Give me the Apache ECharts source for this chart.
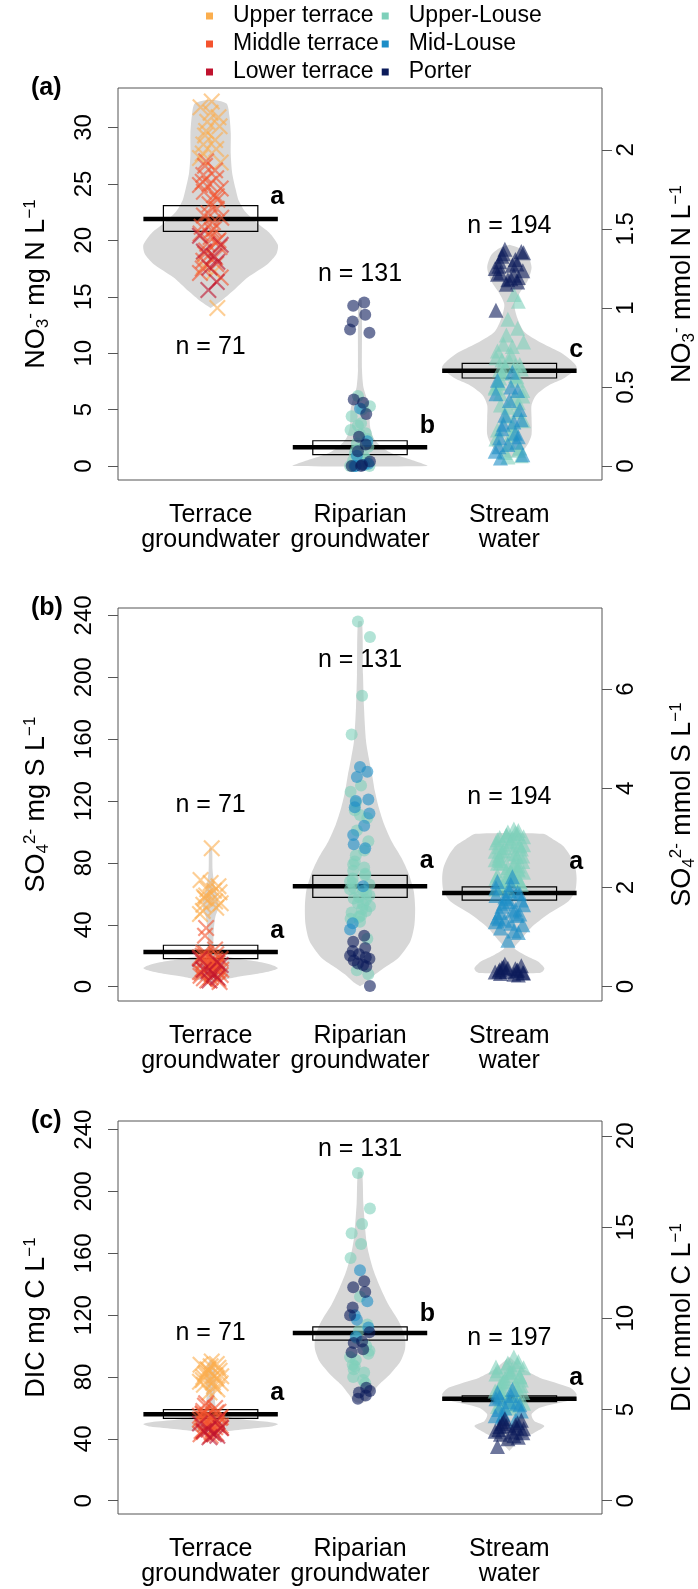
<!DOCTYPE html>
<html>
<head>
<meta charset="utf-8">
<title>NO3, SO4 and DIC by water type</title>
<script src="https://cdn.jsdelivr.net/npm/echarts@6.0.0/dist/echarts.min.js"></script>
<style>
  html, body { margin: 0; padding: 0; background: #fff; }
  #chart { width: 698px; height: 1589px; }
</style>
</head>
<body>
<div id="chart"></div>
<script>
// categories and sites
var groups = ['Terrace\ngroundwater', 'Riparian\ngroundwater', 'Stream\nwater'];
var terraceSites = ['Upper terrace', 'Middle terrace', 'Lower terrace'];
var louseSites = ['Upper-Louse', 'Mid-Louse', 'Porter'];
var legendOrder = ['Upper terrace', 'Middle terrace', 'Lower terrace', 'Upper-Louse', 'Mid-Louse', 'Porter'];
var siteColors = ['#FBAE4E', '#F4532E', '#C0122E', '#7ED0BA', '#1C8DC7', '#0B1B5A'];

// ---------- (a) NO3-, mg N per L ----------
var no3Range = [-1.24, 33.5];
var no3Ticks = [0, 5, 10, 15, 20, 25, 30];
var no3MmolTicks = [0, 0.5, 1, 1.5, 2];
var no3TerraceUpper = [32.3, 31.8, 31.3, 30.9, 30.5, 30.1, 29.7, 29.3, 28.9, 28.5, 28.1, 27.7, 27.3, 26.9, 17.7, 17.2, 14.0];
var no3TerraceMiddle = [27.0, 26.6, 26.2, 25.8, 25.5, 25.2, 24.9, 24.6, 24.3, 24.0, 23.6, 23.2, 22.8, 22.4, 22.0, 21.6, 21.2, 20.9, 20.6, 20.3, 20.0, 19.7, 19.4, 19.1, 18.8, 18.5, 18.2, 17.9, 17.5, 17.1, 16.7, 22.2, 21.0, 19.9, 25.0, 23.9];
var no3TerraceLower = [20.4, 19.6, 19.0, 18.6, 18.1, 17.6, 16.3, 15.6];
var no3RiparianUpperLouse = [6.2, 5.3, 5.0, 4.4, 3.8, 3.2, 2.8, 2.4, 2.0, 1.7, 1.4, 1.1, 0.8, 0.5, 0.3, 0.1, 0.0, 0.0, 0.0, 0.2, 0.6, 1.5, 2.9, 3.6];
var no3RiparianMidLouse = [5.1, 2.2, 0.9, 0.2, 0.0, 0.0, 0.1];
var no3RiparianPorter = [14.5, 14.2, 13.4, 12.8, 12.1, 11.8, 5.9, 5.6, 4.6, 2.6, 1.9, 1.3, 0.4, 0.1, 0.0, 0.0];
var no3StreamUpperLouse = [15.2, 14.6, 13.0, 12.2, 11.6, 11.0, 10.6, 10.2, 9.9, 9.6, 9.3, 9.0, 8.8, 8.6, 8.4, 8.2, 8.0, 7.8, 7.6, 7.3, 7.0, 6.7, 6.4, 6.0, 5.6, 5.2, 4.8, 4.4, 4.0, 3.6, 3.2, 2.8, 2.4, 2.0, 1.6, 1.2, 0.9, 10.8, 9.4, 8.9, 8.5, 7.9, 7.4, 6.9, 6.2, 5.4, 3.0, 1.4, 0.8];
var no3StreamMidLouse = [8.3, 7.6, 7.0, 6.4, 5.8, 5.0, 4.5, 4.1, 3.7, 3.3, 2.9, 2.5, 2.1, 1.7, 1.3, 1.0, 0.7, 3.9, 2.6, 1.9, 6.7];
var no3StreamPorter = [19.2, 19.0, 18.8, 18.6, 18.3, 18.1, 17.9, 17.7, 17.5, 17.3, 17.1, 16.9, 16.7, 16.5, 16.3, 16.1, 18.9, 17.8, 17.0, 16.6, 13.8];
// violin outline: [value, relative half width]
var no3ViolinTerrace = [[14.0, 0], [14.6, 0.15], [15.5, 0.33], [16.7, 0.55], [17.9, 0.85], [18.8, 0.98], [19.6, 1.0], [20.7, 0.87], [21.5, 0.7], [22.5, 0.52], [23.5, 0.42], [24.6, 0.37], [26, 0.32], [27.6, 0.3], [29.5, 0.3], [31, 0.28], [32.1, 0.24], [32.4, 0.1]];
var no3ViolinRiparian = [[0, 1.0], [0.3, 0.88], [0.7, 0.68], [1.2, 0.45], [1.8, 0.3], [2.5, 0.2], [3.5, 0.15], [5, 0.14], [6, 0.1], [7, 0.05], [8.5, 0.03], [14.7, 0.025]];
var no3ViolinStream = [[0.7, 0], [1.0, 0.15], [1.9, 0.27], [2.8, 0.33], [4.3, 0.33], [5.4, 0.33], [6.3, 0.4], [7.2, 0.6], [7.8, 0.82], [8.7, 1.0], [9.3, 0.93], [10.1, 0.75], [11.0, 0.45], [11.9, 0.22], [13.1, 0.12], [14.3, 0.075], [15.3, 0.15], [16.4, 0.27], [17.6, 0.33], [18.7, 0.27], [19.3, 0.15], [19.6, 0]];
var no3Mean = [21.9, 1.66, 8.45];
var no3BoxLo = [20.8, 1.0, 7.8];
var no3BoxHi = [23.08, 2.24, 9.1];
var no3Letters = ['a', 'b', 'c'];
var no3LetterY = [23.8, 3.5, 10.3];
var no3N = ['n = 71', 'n = 131', 'n = 194'];
var no3NY = [10.5, 17.0, 21.25];

// ---------- (b) SO4 2-, mg S per L ----------
var so4Range = [-9.25, 244.8];
var so4Ticks = [0, 40, 80, 120, 160, 200, 240];
var so4MmolTicks = [0, 2, 4, 6];
var so4TerraceUpper = [89.5, 69, 67, 65, 63, 61, 59, 57, 55, 53, 51, 49, 47, 54, 58, 62];
var so4TerraceMiddle = [38, 33, 24, 22, 21, 20, 19, 18, 17, 16, 15, 14, 13, 12, 11, 10, 9, 8, 7, 6, 5, 4, 3, 21.5, 19.5, 17.5, 15.5, 13.5, 11.5, 9.5, 7.5, 5.5, 12.5, 10.5, 14.5, 16.5];
var so4TerraceLower = [18, 14, 11, 8, 6, 4, 16, 10];
var so4RiparianUpperLouse = [236, 226, 188, 163, 130, 126, 111, 109, 101, 94, 85, 81, 77, 75, 72, 70, 68, 66, 64, 62, 60, 58, 56, 54, 52, 50, 48, 46, 44, 42, 31, 10.6, 8, 119, 114, 88, 79, 73, 67, 63, 59, 57, 53, 49, 45];
var so4RiparianMidLouse = [142, 139, 135.5, 121, 120, 116, 104, 98, 89.5, 41, 37, 112, 92, 65];
var so4RiparianPorter = [33, 29, 25, 23, 20, 18, 17, 14, 13, 21, 19, 15, 0.5];
var so4StreamUpperLouse = [102, 101, 100, 99, 98, 97, 96, 95, 94, 93, 92, 91, 90, 89, 88, 87, 86, 85, 84, 83, 82, 81, 80, 79, 78, 77, 76, 75, 74, 73, 72, 71, 70, 69, 68, 67, 66, 65, 64, 99.5, 96.5, 93.5, 90.5, 87.5, 84.5, 81.5, 78.5, 75.5, 72.5, 69.5, 97.8, 91.8, 85.8, 79.8, 73.8, 63, 62];
var so4StreamMidLouse = [71, 68, 66, 64, 62, 60, 58, 56, 54, 52, 50, 48, 46, 44, 42, 40, 38, 36, 35, 30, 61, 57, 53, 49, 45, 41, 59, 55, 47, 43];
var so4StreamPorter = [14.5, 13.5, 12.8, 12.2, 11.6, 11.0, 10.5, 10.0, 9.5, 9.0, 8.5, 8.0, 7.5, 12.0, 10.8, 9.8, 8.8];
var so4ViolinTerrace = [[2.5, 0], [5, 0.25], [6.7, 0.45], [8, 0.65], [10, 0.88], [12, 1.0], [14.2, 0.9], [16.4, 0.67], [18.6, 0.35], [21, 0.12], [25, 0.05], [35, 0.045], [45, 0.07], [52, 0.12], [58, 0.1], [65, 0.06], [75, 0.03], [89.5, 0.02]];
var so4ViolinRiparian = [[0.3, 0], [3, 0.1], [7.8, 0.22], [12, 0.35], [18.6, 0.57], [29.4, 0.75], [40, 0.81], [51, 0.82], [61.7, 0.8], [72.4, 0.73], [83, 0.62], [94, 0.47], [104.8, 0.36], [115.6, 0.28], [126.6, 0.22], [137, 0.18], [148, 0.13], [158.7, 0.09], [180, 0.06], [201.6, 0.045], [236, 0.03]];
var so4ViolinStream = [[8.9, 0.45], [10, 0.5], [12.1, 0.52], [16.4, 0.42], [20.7, 0.22], [25, 0.075], [29.4, 0.15], [38, 0.32], [46.6, 0.57], [55.2, 0.88], [62, 0.98], [70, 1.0], [77, 0.98], [85, 0.9], [91, 0.8], [95, 0.66], [98.8, 0.5]];
var so4Mean = [22.4, 64.9, 60.6];
var so4BoxLo = [18.1, 57.8, 55.9];
var so4BoxHi = [26.8, 72.0, 64.5];
var so4Letters = ['a', 'a', 'a'];
var so4LetterY = [35.8, 81.1, 80.7];
var so4N = ['n = 71', 'n = 131', 'n = 194'];
var so4NY = [117.3, 210.9, 122.5];

// ---------- (c) DIC, mg C per L ----------
var dicRange = [-8.6, 245.6];
var dicTicks = [0, 40, 80, 120, 160, 200, 240];
var dicMmolTicks = [0, 5, 10, 15, 20];
var dicTerraceUpper = [90, 88, 87, 86, 85, 84, 83, 82, 81, 80, 79, 78, 77, 76, 75, 74, 72, 70, 88.5, 84.5, 80.5, 76.5];
var dicTerraceMiddle = [63, 61.5, 60, 58, 57, 56, 55, 54, 53, 52, 51, 50, 49, 48, 47, 46, 45, 44, 43, 42, 57.5, 55.5, 53.5, 51.5, 49.5, 47.5, 45.5, 43.5, 56.5, 52.5, 48.5, 44.5];
var dicTerraceLower = [50, 47, 45, 43, 42, 41, 52, 46];
var dicRiparianUpperLouse = [212, 189, 179, 173, 166, 157, 132, 114, 105, 95, 91, 87, 83, 80, 76, 88, 93, 97, 85, 78, 100, 110];
var dicRiparianMidLouse = [149, 129, 117, 112, 106, 120];
var dicRiparianPorter = [142, 138, 135, 125, 120, 109, 102, 98, 73, 70, 68, 66, 71, 103, 96];
var dicStreamUpperLouse = [93, 90, 89, 88, 87, 86, 85, 84, 83, 82, 81, 80, 79, 78, 77, 76, 75, 74, 73, 72, 71, 70, 69, 68, 67, 66, 65, 64, 63, 62, 61, 60, 86.5, 83.5, 80.5, 77.5, 74.5, 71.5, 68.5, 65.5, 62.5];
var dicStreamMidLouse = [72, 70, 68, 66, 64, 62, 60, 58, 56, 54, 52, 67, 63, 59, 55];
var dicStreamPorter = [53, 52, 51, 50, 49, 48, 47, 46, 45, 44, 43, 42, 41, 40, 50.5, 48.5, 46.5, 44.5, 35];
var dicViolinTerrace = [[41, 0], [44, 0.12], [46.2, 0.5], [48, 0.9], [49.5, 1.0], [51, 0.85], [52.7, 0.45], [55, 0.18], [58, 0.1], [62, 0.07], [70, 0.06], [80, 0.08], [86, 0.06], [90.5, 0.02]];
var dicViolinRiparian = [[63.5, 0.05], [66, 0.12], [69, 0.17], [75, 0.28], [82, 0.45], [90, 0.6], [98, 0.67], [105, 0.67], [112, 0.62], [118, 0.55], [127, 0.42], [138, 0.3], [149, 0.2], [160, 0.13], [170, 0.09], [192, 0.05], [212.4, 0.03]];
var dicViolinStream = [[32.2, 0], [38.7, 0.15], [44, 0.37], [48.4, 0.52], [51.6, 0.37], [55.9, 0.33], [60.2, 0.45], [65.7, 0.95], [68.9, 1.0], [73.2, 0.9], [79.6, 0.45], [85, 0.22], [90, 0.08], [93, 0]];
var dicMean = [55.9, 108.4, 66.0];
var dicBoxLo = [53.3, 103.9, 64.1];
var dicBoxHi = [58.9, 112.5, 67.8];
var dicLetters = ['a', 'b', 'a'];
var dicLetterY = [69.9, 120.7, 79.6];
var dicN = ['n = 71', 'n = 131', 'n = 197'];
var dicNY = [108.1, 227.5, 105.1];

// fixed jitter pattern (fraction of the jitter amplitude)
var jitterPattern = [0.1, -0.6, 0.8, -0.2, 0.5, -0.9, 0.3, -0.4, 0.95, -0.7, 0.0, 0.6, -0.5, 0.2, -0.95, 0.7, -0.1, 0.4, -0.8, 0.9, -0.3, 0.55, -0.65];

var FONT = '"Liberation Sans", Arial, sans-serif';
var HALF_W = 0.45;      // violin + mean line half width (x units)
var BOX_W = 0.316;
var VIOLIN_COLOR = '#d7d7d7';
var CROSS = 'path://M0,0.9L0.9,0L5,4.1L9.1,0L10,0.9L5.9,5L10,9.1L9.1,10L5,5.9L0.9,10L0,9.1L4.1,5Z';
var groupSymbol = [CROSS, 'circle', 'triangle'];
var groupSymbolSize = [17, 12, 15];
var groupJitter = [0.075, 0.07, 0.1];

var panels = [
    {
        range: no3Range, ticks: no3Ticks, mmolTicks: no3MmolTicks, perMmol: 14.007,
        top: 88, height: 392, tag: '(a)',
        left: '{t|NO}{sb|3}{sp|-}{t| mg N L}{sp|−1}',
        right: '{t|NO}{sb|3}{sp|-}{t| mmol N L}{sp|−1}',
        violins: [no3ViolinTerrace, no3ViolinRiparian, no3ViolinStream],
        points: [[no3TerraceUpper, no3TerraceMiddle, no3TerraceLower],
                 [no3RiparianUpperLouse, no3RiparianMidLouse, no3RiparianPorter],
                 [no3StreamUpperLouse, no3StreamMidLouse, no3StreamPorter]],
        mean: no3Mean, lo: no3BoxLo, hi: no3BoxHi,
        letters: no3Letters, letterY: no3LetterY, n: no3N, nY: no3NY
    },
    {
        range: so4Range, ticks: so4Ticks, mmolTicks: so4MmolTicks, perMmol: 32.06,
        top: 608, height: 393, tag: '(b)',
        left: '{t|SO}{sb|4}{sp|2-}{t| mg S L}{sp|−1}',
        right: '{t|SO}{sb|4}{sp|2-}{t| mmol S L}{sp|−1}',
        violins: [so4ViolinTerrace, so4ViolinRiparian, so4ViolinStream],
        points: [[so4TerraceUpper, so4TerraceMiddle, so4TerraceLower],
                 [so4RiparianUpperLouse, so4RiparianMidLouse, so4RiparianPorter],
                 [so4StreamUpperLouse, so4StreamMidLouse, so4StreamPorter]],
        mean: so4Mean, lo: so4BoxLo, hi: so4BoxHi,
        letters: so4Letters, letterY: so4LetterY, n: so4N, nY: so4NY
    },
    {
        range: dicRange, ticks: dicTicks, mmolTicks: dicMmolTicks, perMmol: 11.8,
        top: 1121, height: 393, tag: '(c)',
        left: '{t|DIC mg C L}{sp|−1}',
        right: '{t|DIC mmol C L}{sp|−1}',
        violins: [dicViolinTerrace, dicViolinRiparian, dicViolinStream],
        points: [[dicTerraceUpper, dicTerraceMiddle, dicTerraceLower],
                 [dicRiparianUpperLouse, dicRiparianMidLouse, dicRiparianPorter],
                 [dicStreamUpperLouse, dicStreamMidLouse, dicStreamPorter]],
        mean: dicMean, lo: dicBoxLo, hi: dicBoxHi,
        letters: dicLetters, letterY: dicLetterY, n: dicN, nY: dicNY
    }
];

var nameRich = {
    t: { fontSize: 27, lineHeight: 30, fontFamily: FONT, color: '#000' },
    sb: { fontSize: 17, lineHeight: 14, verticalAlign: 'bottom', fontFamily: FONT, color: '#000' },
    sp: { fontSize: 17, lineHeight: 14, verticalAlign: 'top', fontFamily: FONT, color: '#000' }
};

var chart = echarts.init(document.getElementById('chart'), null, { renderer: 'canvas' });
var grids = [], xAxes = [], yAxes = [], series = [], graphics = [];

panels.forEach(function (p, pi) {
    grids.push({
        left: 118, width: 484, top: p.top, height: p.height,
        containLabel: false, outerBoundsMode: 'none',
        show: true, borderColor: '#555', borderWidth: 1
    });

    xAxes.push({
        type: 'value', gridIndex: pi, min: 0.38, max: 3.62,
        axisLine: { show: false }, axisTick: { show: false }, splitLine: { show: false },
        axisLabel: {
            customValues: [1, 2, 3], margin: 23, fontSize: 25, lineHeight: 25, color: '#000', fontFamily: FONT,
            formatter: function (v) { return groups[Math.round(v) - 1]; }
        }
    });

    yAxes.push({
        type: 'value', gridIndex: pi, position: 'left', min: p.range[0], max: p.range[1],
        name: p.left, nameLocation: 'middle', nameRotate: 90, nameGap: 66,
        nameTextStyle: { rich: nameRich },
        axisLine: { show: false }, splitLine: { show: false },
        axisTick: { show: true, customValues: p.ticks, length: 10, lineStyle: { color: '#555' } },
        axisLabel: { customValues: p.ticks, rotate: 90, margin: 22, fontSize: 24, color: '#000', fontFamily: FONT }
    });
    yAxes.push({
        type: 'value', gridIndex: pi, position: 'right',
        min: p.range[0] / p.perMmol, max: p.range[1] / p.perMmol,
        name: p.right, nameLocation: 'middle', nameRotate: 90, nameGap: 66,
        nameTextStyle: { rich: nameRich },
        axisLine: { show: false }, splitLine: { show: false },
        axisTick: { show: true, customValues: p.mmolTicks, length: 10, lineStyle: { color: '#555' } },
        axisLabel: { customValues: p.mmolTicks, rotate: 90, margin: 12, fontSize: 24, color: '#000', fontFamily: FONT }
    });

    // violins
    series.push({
        type: 'custom', xAxisIndex: pi, yAxisIndex: pi * 2, z: 1, silent: true,
        data: [[1, 0], [2, 0], [3, 0]],
        renderItem: function (params, api) {
            var g = api.value(0);
            var prof = p.violins[params.dataIndex];
            var right = [], left = [];
            prof.forEach(function (d) {
                right.push(api.coord([g + d[1] * HALF_W, d[0]]));
                left.unshift(api.coord([g - d[1] * HALF_W, d[0]]));
            });
            return {
                type: 'polygon',
                shape: { points: right.concat(left), smooth: 0.25 },
                style: { fill: VIOLIN_COLOR, stroke: null }
            };
        }
    });

    // box + mean line
    series.push({
        type: 'custom', xAxisIndex: pi, yAxisIndex: pi * 2, z: 2, silent: true,
        data: p.mean.map(function (m, i) { return [i + 1, m, p.lo[i], p.hi[i]]; }),
        renderItem: function (params, api) {
            var g = api.value(0);
            var tl = api.coord([g - BOX_W, api.value(3)]);
            var br = api.coord([g + BOX_W, api.value(2)]);
            var l0 = api.coord([g - HALF_W, api.value(1)]);
            var l1 = api.coord([g + HALF_W, api.value(1)]);
            return {
                type: 'group', children: [
                    { type: 'rect', shape: { x: tl[0], y: tl[1], width: br[0] - tl[0], height: br[1] - tl[1] },
                      style: { fill: 'none', stroke: '#000', lineWidth: 1.2 } },
                    { type: 'line', shape: { x1: l0[0], y1: l0[1], x2: l1[0], y2: l1[1] },
                      style: { stroke: '#000', lineWidth: 4.5 } }
                ]
            };
        }
    });

    // jittered points
    p.points.forEach(function (sites, gi) {
        sites.forEach(function (vals, si) {
            var name = gi === 0 ? terraceSites[si] : louseSites[si];
            var color = siteColors[gi === 0 ? si : si + 3];
            series.push({
                type: 'scatter', name: name, xAxisIndex: pi, yAxisIndex: pi * 2, z: 3, silent: true,
                symbol: groupSymbol[gi], symbolSize: groupSymbolSize[gi],
                itemStyle: { color: color, opacity: 0.6 },
                data: vals.map(function (v, i) {
                    var j = jitterPattern[(i * 5 + si * 7 + gi * 3) % jitterPattern.length];
                    return [gi + 1 + j * groupJitter[gi], v];
                })
            });
        });
    });

    // n labels and letters
    series.push({
        type: 'custom', xAxisIndex: pi, yAxisIndex: pi * 2, z: 4, silent: true,
        data: p.nY.map(function (y, i) { return [i + 1, y]; }),
        renderItem: function (params, api) {
            var c = api.coord([api.value(0), api.value(1)]);
            return { type: 'text', x: c[0], y: c[1],
                style: { text: p.n[params.dataIndex], font: '25px ' + FONT, fill: '#000', align: 'center', verticalAlign: 'middle' } };
        }
    });
    series.push({
        type: 'custom', xAxisIndex: pi, yAxisIndex: pi * 2, z: 4, silent: true,
        data: p.letterY.map(function (y, i) { return [i + 1.4, y]; }),
        renderItem: function (params, api) {
            var c = api.coord([api.value(0), api.value(1)]);
            return { type: 'text', x: c[0], y: c[1],
                style: { text: p.letters[params.dataIndex], font: 'bold 25px ' + FONT, fill: '#000', align: 'left', verticalAlign: 'middle' } };
        }
    });

    graphics.push({
        type: 'text', left: 31, top: p.top - 12,
        style: { text: p.tag, font: 'bold 25px ' + FONT, fill: '#000' }
    });
});

chart.setOption({
    animation: false,
    backgroundColor: '#fff',
    grid: grids,
    xAxis: xAxes,
    yAxis: yAxes,
    graphic: graphics,
    legend: {
        orient: 'vertical', left: 206, top: 2, height: 90, padding: 0, itemGap: 0,
        itemWidth: 7, itemHeight: 7, icon: 'rect', selectedMode: false,
        itemStyle: { opacity: 1 },
        textStyle: { fontSize: 23, lineHeight: 28, color: '#000', fontFamily: FONT, padding: [0, 3, 0, 15] },
        data: legendOrder
    },
    series: series
});
</script>
</body>
</html>
